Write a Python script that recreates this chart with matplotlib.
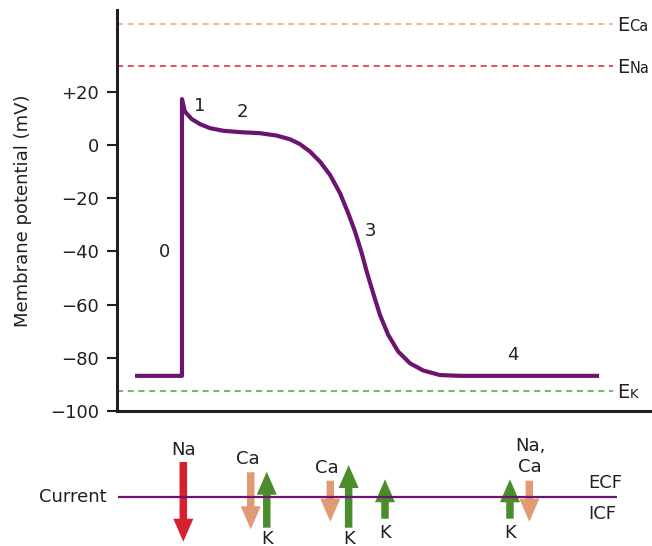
import matplotlib.pyplot as plt
from matplotlib.transforms import offset_copy

plt.rcParams['font.family'] = ['DejaVu Sans']

# ventricular action potential
time_ms = [13.5, 48.6, 48.6, 50.8, 55.9, 62.1, 69.5, 79.5, 92.0, 106.9, 119.4,
           129.4, 136.8, 144.3, 151.8, 159.3, 166.8, 172.9, 178.0, 183.0, 186.7,
           191.6, 196.6, 202.8, 210.3, 219.1, 229.0, 241.5, 256.5, 360.4]
potential_mv = [-86.8, -86.8, 17.2, 12.5, 9.7, 7.8, 6.3, 5.3, 4.8, 4.4, 3.5,
                2.1, 0.3, -2.5, -6.3, -11.3, -18.2, -25.7, -32.6, -40.7, -47.6,
                -55.8, -63.9, -71.4, -77.7, -82.1, -84.8, -86.5, -86.8, -86.8]

phase_names = ['0', '1', '2', '3', '4']
phase_t = [35.3, 62.0, 93.8, 189.5, 296.3]
phase_mv = [-40.2, 14.5, 12.2, -32.3, -78.9]

# equilibrium potentials
eq_ions = ['Ca', 'Na', 'K']
eq_mv = [45.5, 29.8, -92.4]
eq_colors = ['#f0a378', '#e5202e', '#4ea631']

yticks = [-100, -80, -60, -40, -20, 0, 20]
ytick_labels = ['\u2212100', '\u221280', '\u221260', '\u221240', '\u221220', '0', '+20']

# ionic currents (arrow from -> to, + is extracellular side)
cur_t = [49.6, 100.0, 112.0, 159.5, 173.2, 200.4, 293.8, 308.3]
cur_from = [35, 24.7, -30.7, 16.3, -30.7, -21.7, -21.7, 16.3]
cur_to = [-44.7, -32.3, 25.3, -24.7, 32, 17.7, 17.7, -24.7]
cur_ion = ['Na', 'Ca', 'K', 'Ca', 'K', 'K', 'K', 'Ca']

cur_labels = ['Na', 'Ca', 'K', 'Ca', 'K', 'K', 'K', 'Na,\nCa']
lab_t = [49.5, 97.7, 112.0, 156.7, 173.2, 200.4, 294.3, 308.8]
lab_y = [47, 37.7, -41.5, 29.3, -41.5, -36, -35.5, 40.3]

ion_colors = {'Na': '#d7202e', 'Ca': '#e29a75', 'K': '#4b8d2c'}
purple = '#6d1470'
dark = '#231f20'

fig = plt.figure(figsize=(6.52, 5.46), dpi=100)
ax = fig.add_axes([0.1794, 0.2473, 0.8206, 0.7344])

ax.plot(time_ms, potential_mv, color=purple, lw=3, solid_joinstyle='round',
        solid_capstyle='butt')

for ion, v, c in zip(eq_ions, eq_mv, eq_colors):
    ax.hlines(v, 0, 370.8, colors=c, lw=1.1, linestyles=(0, (4, 3)))
    base = offset_copy(ax.transData, fig=fig, x=0, y=-5.1, units='points')
    ax.text(373.8, v, 'E', fontsize=14, color=dark, va='baseline', ha='left',
            transform=base, clip_on=False)
    sub = offset_copy(ax.transData, fig=fig, x=8.9, y=-5.1, units='points')
    ax.text(373.8, v, ion, fontsize=10.5 if ion != 'K' else 9.5, color=dark,
            va='baseline', ha='left', transform=sub, clip_on=False)

for name, t, v in zip(phase_names, phase_t, phase_mv):
    ax.text(t, v, name, fontsize=13, color=dark, ha='center', va='center')

ax.set_xlim(0, 400)
ax.set_ylim(-100, 50.7)
ax.set_xticks([])
ax.set_yticks(yticks)
ax.set_yticklabels(ytick_labels)
ax.tick_params(axis='y', direction='out', length=7, width=1.5, pad=6,
               labelsize=13, colors=dark)
ax.spines['top'].set_visible(False)
ax.spines['right'].set_visible(False)
for s in ['left', 'bottom']:
    ax.spines[s].set_linewidth(2.2)
    ax.spines[s].set_color(dark)
ax.set_ylabel('Membrane potential (mV)', fontsize=13, color=dark)
ax.yaxis.set_label_coords(-0.159, 0.5)

# current panel
ax2 = fig.add_axes([0.1794, 0.0, 0.8206, 116 / 546])
ax2.set_xlim(0, 400)
ax2.set_ylim(-49, 67)
ax2.axis('off')

ax2.hlines(0, 0.75, 373.8, colors=purple, lw=1.6, clip_on=False)
ax2.text(-7.5, 0, 'Current', fontsize=13, color=dark, ha='right', va='center',
         clip_on=False)
ax2.text(352.2, 14.3, 'ECF', fontsize=13, color=dark, ha='left', va='center')
ax2.text(352.2, -17, 'ICF', fontsize=13, color=dark, ha='left', va='center')

for t, y0, y1, ion in zip(cur_t, cur_from, cur_to, cur_ion):
    ax2.arrow(t, y0, 0, y1 - y0, width=5.6, head_width=15, head_length=23,
              length_includes_head=True, color=ion_colors[ion], lw=0,
              clip_on=False)

for lab, t, y in zip(cur_labels, lab_t, lab_y):
    ax2.text(t, y, lab, fontsize=13, color=dark, ha='center', va='center',
             linespacing=1.25, clip_on=False)

fig.savefig('out.png', dpi=100)
